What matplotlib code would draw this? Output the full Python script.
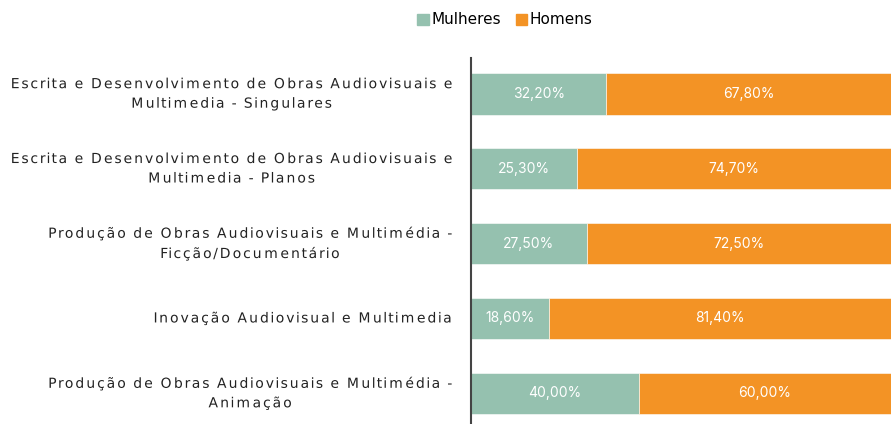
import matplotlib
matplotlib.use("Agg")
import numpy as np
import matplotlib.pyplot as plt
from matplotlib.patches import Patch
from matplotlib.path import Path
from matplotlib.patheffects import AbstractPathEffect
from matplotlib.transforms import Affine2D

# dados
categorias = [
    "Escrita e Desenvolvimento de Obras Audiovisuais e\nMultimedia - Singulares",
    "Escrita e Desenvolvimento de Obras Audiovisuais e\nMultimedia - Planos",
    "Produção de Obras Audiovisuais e Multimédia -\nFicção/Documentário",
    "Inovação Audiovisual e Multimedia",
    "Produção de Obras Audiovisuais e Multimédia -\nAnimação",
]
mulheres = [32.2, 25.3, 27.5, 18.6, 40.0]
homens = [67.8, 74.7, 72.5, 81.4, 60.0]

cor_m = "#95c1af"
cor_h = "#f39325"
ESP = 1.24


# espaçamento entre letras: afasta cada glifo do centro da linha
class Espacar(AbstractPathEffect):
    def __init__(self, f, dx=0.0):
        super().__init__()
        self.f = f
        self.dx = dx

    def draw_path(self, renderer, gc, tpath, affine, rgbFace=None):
        v = tpath.vertices.copy()
        c = tpath.codes
        if c is None or len(v) == 0:
            renderer.draw_path(gc, tpath, affine, rgbFace)
            return
        ok = c != Path.CLOSEPOLY
        cx = (v[ok, 0].min() + v[ok, 0].max()) / 2
        ini = list(np.where(c == Path.MOVETO)[0])
        fim = ini[1:] + [len(v)]
        for s, e in zip(ini, fim):
            xs = v[s:e, 0][ok[s:e]]
            if len(xs) == 0:
                continue
            sc = (xs.min() + xs.max()) / 2
            v[s:e, 0] += (self.f - 1) * (sc - cx)
        renderer.draw_path(gc, Path(v, c), affine + Affine2D().translate(self.dx, 0), rgbFace)


fig = plt.figure(figsize=(8.91, 4.24), dpi=100)
ax = fig.add_axes([471 / 891, 0, 420 / 891, 366 / 424])

y = list(range(len(categorias)))
b1 = ax.barh(y, mulheres, height=0.55, color=cor_m, edgecolor="white", linewidth=0.4)
b2 = ax.barh(y, homens, left=mulheres, height=0.55, color=cor_h, edgecolor="white", linewidth=0.4)

def fmt(v):
    return f"{v:.2f}%".replace(".", ",")

for bars, vals in ((b1, mulheres), (b2, homens)):
    ax.bar_label(bars, labels=[fmt(v) for v in vals], label_type="center",
                 color="white", fontsize=10, fontfamily="Inter")

ax.set_xlim(0, 100)
ax.set_ylim(4.41, -0.48)
ax.set_yticks(y)
ax.set_yticklabels(categorias, ha="right", va="center", multialignment="center",
                   fontsize=10, color="#222222", linespacing=1.5)
ax.tick_params(axis="y", length=0, pad=13)
ax.set_xticks([])
for s in ("top", "right", "bottom"):
    ax.spines[s].set_visible(False)
ax.spines["left"].set_color("#444444")
ax.spines["left"].set_linewidth(1.5)

handles = [Patch(color=cor_m, label="Mulheres"), Patch(color=cor_h, label="Homens")]
fig.legend(handles=handles, loc="center", bbox_to_anchor=(505 / 891, 1 - 20 / 424),
           ncol=2, frameon=False, fontsize=11, handlelength=0.75, handleheight=0.75,
           handletextpad=0.15, columnspacing=1.0)

# mede cada rótulo para manter a borda direita no lugar depois do espaçamento
fig.canvas.draw()
r = fig.canvas.get_renderer()
for t in ax.get_yticklabels():
    w = t.get_window_extent(r).width
    t.set_path_effects([Espacar(ESP, dx=-(ESP - 1) * w / 2)])

fig.savefig("out.png", dpi=100)
